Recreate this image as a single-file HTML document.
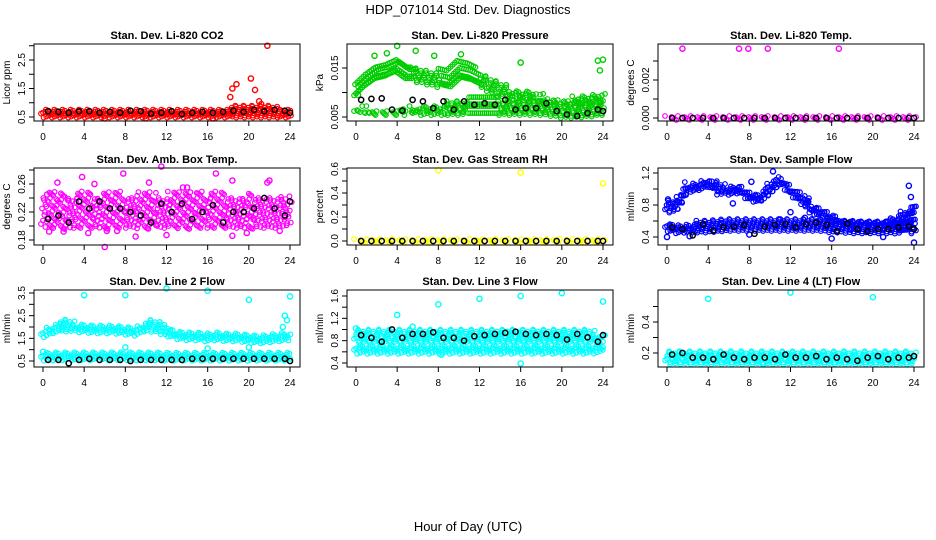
<!DOCTYPE html>
<html><head><meta charset="utf-8">
<style>
body{margin:0;background:#fff;}
svg{display:block;font-family:"Liberation Sans",sans-serif;}
</style></head>
<body>
<svg id="chart" width="936" height="540" viewBox="0 0 936 540">
<text x="468" y="14" text-anchor="middle" font-size="13">HDP_071014  Std. Dev. Diagnostics</text>
<text x="468" y="531" text-anchor="middle" font-size="13">Hour of Day (UTC)</text>
</svg>
<script>
// ---- data ----
const hours = [0,1,2,3,4,5,6,7,8,9,10,11,12,13,14,15,16,17,18,19,20,21,22,23,24];
const xTicks = [0,4,8,12,16,20,24];

const co2Lo = [0.55,0.55,0.55,0.55,0.55,0.55,0.55,0.55,0.55,0.55,0.55,0.55,0.55,0.55,0.55,0.55,0.55,0.55,0.55,0.55,0.55,0.55,0.55,0.55,0.55];
const co2Hi = [0.8,0.82,0.78,0.8,0.8,0.78,0.8,0.8,0.8,0.78,0.8,0.78,0.8,0.78,0.8,0.78,0.8,0.8,0.82,0.85,0.85,0.88,0.85,0.82,0.8];
const co2Blk = [0.7,0.68,0.65,0.7,0.7,0.65,0.68,0.65,0.72,0.7,0.62,0.65,0.7,0.6,0.65,0.68,0.65,0.68,0.72,0.68,0.75,0.7,0.75,0.72,0.65];
const co2OutX = [18.2,18.4,18.8,20.2,20.6,21.0,21.2,21.8,6.0,10.0,16.5];
const co2OutY = [1.2,1.5,1.65,1.85,1.45,1.05,0.95,3.0,0.45,0.45,0.45];

const presLo = [0.0058,0.0058,0.0058,0.0058,0.0058,0.0058,0.0058,0.0058,0.0058,0.0058,0.0058,0.0058,0.0058,0.0058,0.0058,0.0058,0.0058,0.0058,0.0058,0.0056,0.0052,0.0052,0.0053,0.0055,0.0058];
const presHi = [0.0068,0.0068,0.0068,0.0068,0.0068,0.0068,0.0068,0.007,0.0075,0.008,0.0085,0.009,0.009,0.009,0.0088,0.0088,0.0088,0.0088,0.0085,0.0082,0.008,0.0078,0.0078,0.008,0.0085];
const presLo2 = [0.009,0.011,0.0125,0.013,0.014,0.0125,0.0125,0.012,0.0115,0.011,0.013,0.0125,0.0115,0.0105,0.0095,0.009,0.0088,0.0088,0.0085,0.0082,0.008,0.0078,0.0078,0.008,0.0085];
const presHi2 = [0.0125,0.0145,0.0165,0.017,0.0175,0.016,0.015,0.015,0.0145,0.0145,0.0165,0.0165,0.0145,0.013,0.012,0.011,0.0105,0.0098,0.0095,0.009,0.0088,0.0088,0.009,0.0095,0.0105];
const presBlk = [0.0085,0.0087,0.0088,0.0065,0.0063,0.0085,0.0082,0.0068,0.0082,0.0065,0.0082,0.0075,0.0078,0.0075,0.0085,0.0065,0.0068,0.0068,0.0078,0.0062,0.0055,0.0052,0.0058,0.0065,0.0062];
const presOutX = [0.2,1.8,4.0,3.0,5.8,7.6,10.2,16.0,23.5,24.0,23.7];
const presOutY = [0.0095,0.0175,0.0195,0.018,0.0185,0.0175,0.0178,0.0161,0.0165,0.0167,0.0145];

const tempLo = [0,0,0,0,0,0,0,0,0,0,0,0,0,0,0,0,0,0,0,0,0,0,0,0,0];
const tempHi = [0.00005,0.00005,0.00005,0.00005,0.00005,0.00005,0.00005,0.00005,0.00005,0.00005,0.00005,0.00005,0.00005,0.00005,0.00005,0.00005,0.00005,0.00005,0.00005,0.00005,0.00005,0.00005,0.00005,0.00005,0.00005];
const tempBlk = [0,0,0,0,0,0,0,0,0,0,0,0,0,0,0,0,0,0,0,0,0,0,0,0,0];
const tempOutX = [1.5,7.0,7.9,9.8,16.7];
const tempOutY = [0.00365,0.00365,0.00365,0.00365,0.00365];

const ambLo = [0.2,0.2,0.198,0.2,0.2,0.2,0.198,0.2,0.2,0.2,0.198,0.2,0.2,0.2,0.198,0.2,0.2,0.2,0.2,0.2,0.198,0.2,0.2,0.2,0.205];
const ambHi = [0.245,0.25,0.245,0.245,0.25,0.245,0.245,0.25,0.245,0.245,0.25,0.245,0.245,0.25,0.25,0.25,0.245,0.25,0.245,0.245,0.245,0.245,0.245,0.245,0.24];
const ambBlk = [0.21,0.215,0.205,0.235,0.225,0.235,0.225,0.225,0.22,0.215,0.205,0.232,0.22,0.232,0.21,0.22,0.23,0.205,0.22,0.22,0.225,0.24,0.225,0.215,0.235];
const ambOutX = [0.4,1.4,3.8,5.0,6.0,7.8,11.5,16.8,18.4,22.0,4.4,9.0,12.0,18.4,0.6,2.0,6.2,10.3,14.0,21.8,13.6,19.8,7.2,23.0];
const ambOutY = [0.245,0.262,0.27,0.26,0.17,0.275,0.285,0.275,0.265,0.265,0.19,0.185,0.187,0.186,0.192,0.192,0.193,0.262,0.255,0.262,0.255,0.19,0.193,0.193];

const rhLo = [0,0,0,0,0,0,0,0,0,0,0,0,0,0,0,0,0,0,0,0,0,0,0,0,0];
const rhHi = [0.008,0.008,0.008,0.008,0.008,0.008,0.008,0.008,0.008,0.008,0.008,0.008,0.008,0.008,0.008,0.008,0.008,0.008,0.008,0.008,0.008,0.008,0.008,0.008,0.008];
const rhBlk = [0,0,0,0,0,0,0,0,0,0,0,0,0,0,0,0,0,0,0,0,0,0,0,0,0];
const rhOutX = [8,16,24];
const rhOutY = [0.59,0.57,0.48];

const sfLo = [0.5,0.47,0.48,0.48,0.48,0.49,0.5,0.5,0.5,0.5,0.5,0.5,0.5,0.5,0.5,0.5,0.48,0.48,0.47,0.47,0.47,0.47,0.47,0.46,0.47];
const sfHi = [0.56,0.56,0.57,0.58,0.58,0.6,0.6,0.6,0.6,0.6,0.6,0.6,0.6,0.6,0.6,0.6,0.6,0.6,0.6,0.6,0.6,0.6,0.6,0.62,0.6];
const sfLo2 = [0.72,0.75,0.98,1.0,1.05,0.95,0.95,0.97,0.88,0.85,0.95,1.08,0.95,0.85,0.72,0.68,0.6,0.58,0.58,0.57,0.57,0.56,0.56,0.6,0.62];
const sfHi2 = [0.82,0.9,1.08,1.08,1.13,1.06,1.04,1.05,0.95,0.92,1.1,1.14,1.0,0.95,0.82,0.76,0.66,0.62,0.6,0.6,0.6,0.6,0.62,0.72,0.8];
const sfBlk = [0.52,0.5,0.42,0.56,0.48,0.52,0.53,0.55,0.44,0.53,0.55,0.56,0.52,0.56,0.58,0.55,0.47,0.57,0.5,0.47,0.5,0.5,0.52,0.53,0.5];
const sfOutX = [0.0,0.1,2.2,8.0,10.3,8.2,12.0,16.0,21.0,23.5,23.7,24.0,11.0,13.4,6.4];
const sfOutY = [0.4,0.87,0.41,0.43,1.22,1.09,0.71,0.38,0.4,1.04,0.9,0.33,0.62,0.64,0.82];

const l2Lo = [0.6,0.62,0.62,0.62,0.62,0.62,0.62,0.62,0.62,0.62,0.62,0.62,0.6,0.6,0.6,0.6,0.6,0.6,0.6,0.6,0.6,0.6,0.6,0.6,0.6];
const l2Hi = [0.8,0.8,0.82,0.82,0.82,0.82,0.8,0.8,0.8,0.8,0.82,0.8,0.78,0.78,0.78,0.78,0.78,0.78,0.78,0.78,0.78,0.78,0.78,0.78,0.78];
const l2Lo2 = [1.6,1.8,1.9,1.85,1.85,1.8,1.8,1.8,1.75,1.7,1.9,1.85,1.7,1.55,1.5,1.5,1.45,1.5,1.45,1.45,1.4,1.35,1.4,1.45,1.5];
const l2Hi2 = [1.8,2.1,2.3,2.2,2.15,2.1,2.1,2.1,2.05,2.0,2.25,2.2,2.05,1.85,1.8,1.75,1.7,1.75,1.7,1.7,1.65,1.6,1.65,1.75,1.7];
const l2Blk = [0.55,0.55,0.4,0.55,0.6,0.55,0.55,0.55,0.5,0.55,0.55,0.55,0.55,0.55,0.6,0.6,0.6,0.6,0.6,0.6,0.6,0.6,0.6,0.6,0.5];
const l2OutX = [4,8,12,16,20,24,8,16,20,23.5,23.7,23.3,0.0];
const l2OutY = [3.4,3.4,3.7,3.6,3.2,3.35,1.1,1.05,1.1,2.5,2.3,2.0,0.9];

const l3Lo = [0.6,0.6,0.6,0.6,0.6,0.6,0.6,0.6,0.6,0.6,0.6,0.6,0.6,0.6,0.6,0.6,0.6,0.6,0.6,0.6,0.6,0.6,0.6,0.6,0.62];
const l3Hi = [0.72,0.72,0.72,0.72,0.72,0.72,0.72,0.72,0.72,0.72,0.72,0.72,0.72,0.72,0.72,0.72,0.72,0.72,0.72,0.72,0.72,0.72,0.72,0.72,0.72];
const l3Lo2 = [0.8,0.8,0.8,0.8,0.8,0.8,0.8,0.8,0.8,0.8,0.8,0.8,0.8,0.8,0.8,0.8,0.8,0.8,0.8,0.8,0.8,0.8,0.8,0.8,0.8];
const l3Hi2 = [0.96,0.96,0.96,0.96,0.97,0.96,0.96,0.96,0.96,0.96,0.96,0.96,0.96,0.96,0.96,0.96,0.96,0.96,0.96,0.96,0.96,0.96,0.96,0.96,0.95];
const l3Blk = [0.9,0.85,0.78,1.0,0.85,0.92,0.92,0.95,0.85,0.85,0.8,0.88,0.9,0.92,0.94,0.96,0.92,0.9,0.92,0.9,0.82,0.92,0.86,0.78,0.9];
const l3OutX = [4,8,12,16,20,24,16,8.3,0,5.5];
const l3OutY = [1.26,1.45,1.55,1.6,1.65,1.5,0.39,0.55,1.02,1.05];

const l4Lo = [0.14,0.14,0.14,0.14,0.14,0.14,0.14,0.14,0.14,0.14,0.14,0.14,0.14,0.14,0.14,0.14,0.14,0.14,0.14,0.14,0.14,0.14,0.14,0.14,0.14];
const l4Hi = [0.21,0.21,0.21,0.21,0.21,0.21,0.21,0.21,0.21,0.21,0.21,0.21,0.21,0.21,0.21,0.21,0.21,0.21,0.21,0.21,0.21,0.21,0.21,0.21,0.2];
const l4Blk = [0.19,0.2,0.17,0.17,0.16,0.19,0.17,0.16,0.17,0.17,0.16,0.19,0.17,0.17,0.18,0.16,0.17,0.16,0.15,0.17,0.18,0.16,0.17,0.17,0.18];
const l4OutX = [4,12,20,9.4];
const l4OutY = [0.55,0.59,0.56,0.13];

// ---- layout ----
const colLeft = [34,347,658];
const rowTop = [44,168,290];
const rowBot = [121,245,367];
const boxW = 266;

const panels = [
 {name:'co2',title:'Stan. Dev. Li-820 CO2',ylab:'Licor ppm',col:'#ff0000',r:0,c:0,v1:0.5,p1:117,v2:2.5,p2:60,ticks:[0.5,1,1.5,2,2.5,3],labels:['0.5','','1.5','','2.5',''],bands:[[co2Lo,co2Hi]],blk:co2Blk,ox:co2OutX,oy:co2OutY,dx:0.16,dy:4},
 {name:'pressure',title:'Stan. Dev. Li-820 Pressure',ylab:'kPa',col:'#00cd00',r:0,c:1,v1:0.005,p1:117,v2:0.015,p2:68,ticks:[0.005,0.01,0.015],labels:['0.005','','0.015'],bands:[[presLo,presHi],[presLo2,presHi2]],blk:presBlk,ox:presOutX,oy:presOutY,dx:0.2,dy:5},
 {name:'li820-temp',title:'Stan. Dev. Li-820 Temp.',ylab:'degrees C',col:'#ff00ff',r:0,c:2,v1:0,p1:118,v2:0.003,p2:61,ticks:[0,0.001,0.002,0.003],labels:['0.000','','0.002',''],bands:[[tempLo,tempHi]],blk:tempBlk,ox:tempOutX,oy:tempOutY,dx:0.25,dy:4},
 {name:'amb-box-temp',title:'Stan. Dev. Amb. Box Temp.',ylab:'degrees C',col:'#ff00ff',r:1,c:0,v1:0.18,p1:240,v2:0.26,p2:184,ticks:[0.18,0.2,0.22,0.24,0.26,0.28],labels:['0.18','','0.22','','0.26',''],bands:[[ambLo,ambHi]],blk:ambBlk,ox:ambOutX,oy:ambOutY,dx:0.22,dy:6.5},
 {name:'gas-stream-rh',title:'Stan. Dev. Gas Stream RH',ylab:'percent',col:'#ffff00',r:1,c:1,v1:0,p1:241,v2:0.6,p2:169,ticks:[0,0.1,0.2,0.3,0.4,0.5,0.6],labels:['0.0','','0.2','','0.4','','0.6'],bands:[[rhLo,rhHi]],blk:rhBlk,ox:rhOutX,oy:rhOutY,dx:0.25,dy:4},
 {name:'sample-flow',title:'Stan. Dev. Sample Flow',ylab:'ml/min',col:'#0000ff',r:1,c:2,v1:0.4,p1:237,v2:1.2,p2:173,ticks:[0.4,0.6,0.8,1.0,1.2],labels:['0.4','','0.8','','1.2'],bands:[[sfLo,sfHi],[sfLo2,sfHi2]],blk:sfBlk,ox:sfOutX,oy:sfOutY,dx:0.16,dy:4},
 {name:'line2-flow',title:'Stan. Dev. Line 2 Flow',ylab:'ml/min',col:'#00ffff',r:2,c:0,v1:0.5,p1:361,v2:3.5,p2:293,ticks:[0.5,1,1.5,2,2.5,3,3.5],labels:['0.5','','1.5','','2.5','','3.5'],bands:[[l2Lo,l2Hi],[l2Lo2,l2Hi2]],blk:l2Blk,ox:l2OutX,oy:l2OutY,dx:0.18,dy:4},
 {name:'line3-flow',title:'Stan. Dev. Line 3 Flow',ylab:'ml/min',col:'#00ffff',r:2,c:1,v1:0.4,p1:363,v2:1.6,p2:296,ticks:[0.4,0.6,0.8,1.0,1.2,1.4,1.6],labels:['0.4','','0.8','','1.2','','1.6'],bands:[[l3Lo,l3Hi],[l3Lo2,l3Hi2]],blk:l3Blk,ox:l3OutX,oy:l3OutY,dx:0.2,dy:4.5},
 {name:'line4-flow',title:'Stan. Dev. Line 4 (LT) Flow',ylab:'ml/min',col:'#00ffff',r:2,c:2,v1:0.2,p1:353,v2:0.4,p2:322,ticks:[0.2,0.3,0.4,0.5],labels:['0.2','','0.4',''],bands:[[l4Lo,l4Hi]],blk:l4Blk,ox:l4OutX,oy:l4OutY,dx:0.2,dy:4.5}
];

const NS='http://www.w3.org/2000/svg';
const svg=document.getElementById('chart');
function mk(tag,attrs,parent){const e=document.createElementNS(NS,tag);for(const k in attrs)e.setAttribute(k,attrs[k]);(parent||svg).appendChild(e);return e;}
function interp(arr,t){const i=Math.min(Math.floor(t),23);const f=t-i;return arr[i]*(1-f)+arr[i+1]*f;}

panels.forEach(p=>{
  const L=colLeft[p.c], T=rowTop[p.r], B=rowBot[p.r];
  const xs=h=>L+9+h*(boxW-19)/24;
  const ys=v=>p.p1+(v-p.v1)*(p.p2-p.p1)/(p.v2-p.v1);
  const g=mk('g',{});
  
  
  const cg=mk('g',{},g);
  
  
  p.bands.forEach(b=>{
    let k=0;
    for(let t=0;t<=24.001;t+=p.dx){
      const y1=ys(interp(b[0],t)), y2=ys(interp(b[1],t));
      const top=Math.min(y1,y2), bot=Math.max(y1,y2);
      for(let y=bot;y>=top-0.1;y-=p.dy){
        const ox=((k*7)%5)-2, oy=((k*3)%5)-2;
        const c=mk('circle',{cx:(xs(t)+ox).toFixed(1),cy:(y+oy).toFixed(1),r:2.3,fill:'none',stroke:p.col,'stroke-width':1.2},cg);
        
        
        k++;
      }
      k++;
    }
  });
  p.ox.forEach((x,i)=>{
    const c=mk('circle',{cx:xs(x),cy:ys(p.oy[i]),r:2.6,fill:'none',stroke:p.col,'stroke-width':1.4},cg);
    
    
  });
  p.blk.forEach((v,i)=>{
    const c=mk('circle',{cx:xs(hours[i]+(i<24?0.5:0)),cy:ys(v),r:2.6,fill:'none',stroke:'#000','stroke-width':1.5},cg);
    
    
  });
  const bx=mk('rect',{x:L,y:T,width:boxW,height:B-T,fill:'none',stroke:'#000','stroke-width':1},g);
  
  
  const tt=mk('text',{x:L+boxW/2,y:T-5,'text-anchor':'middle','font-size':11,'font-weight':'bold'},g);
  tt.textContent=p.title;
  
  
  xTicks.forEach(h=>{
    const ln=mk('line',{x1:xs(h),x2:xs(h),y1:B,y2:B+5,stroke:'#000'},g);
    
    
    const tx=mk('text',{x:xs(h),y:B+19,'text-anchor':'middle','font-size':10},g);
    tx.textContent=h;
    
    
  });
  p.ticks.forEach((v,i)=>{
    const y=ys(v);
    if(y<T-2||y>B+2) return;
    const ln=mk('line',{x1:L-5,x2:L,y1:y,y2:y,stroke:'#000'},g);
    
    
    if(p.labels[i]){
      const tx=mk('text',{x:L-9,y:y,'text-anchor':'middle','font-size':10,transform:`rotate(-90 ${L-9} ${y})`},g);
      tx.textContent=p.labels[i];
      
      
    }
  });
  const yl=mk('text',{x:L-24,y:(T+B)/2,'text-anchor':'middle','font-size':10,transform:`rotate(-90 ${L-24} ${(T+B)/2})`},g);
  yl.textContent=p.ylab;
  
  
});
</script>
</body></html>
